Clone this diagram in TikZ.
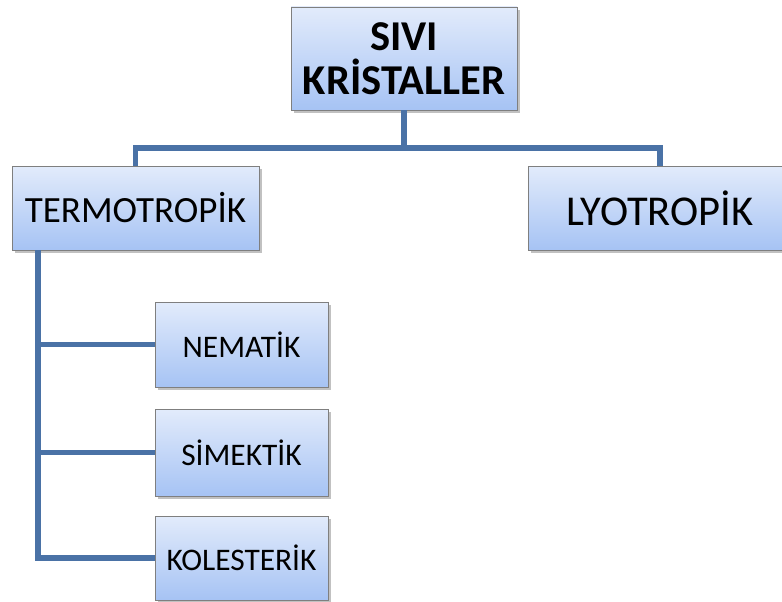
\documentclass[tikz,border=0pt]{standalone}
\usepackage{fontspec}
\setmainfont{Carlito}
\usetikzlibrary{shadows}
\definecolor{boxtop}{HTML}{E2EBFB}
\definecolor{boxbot}{HTML}{A6C3F4}
\definecolor{linec}{HTML}{4A72A6}
\definecolor{boxline}{HTML}{7F7F7F}
\tikzset{
  box/.style={draw=boxline, line width=0.8pt, top color=boxtop, bottom color=boxbot,
    inner sep=0pt, align=center, text=black,
    drop shadow={shadow xshift=2.5pt, shadow yshift=-3pt, opacity=0.35, fill=black!70}},
  conn/.style={draw=linec, line width=5.5pt}
}
\begin{document}
\begin{tikzpicture}[x=1pt,y=-1pt]
\useasboundingbox (0,0) rectangle (782,602);
\node[box, minimum width=226pt, minimum height=103pt, font=\fontsize{42.5}{44}\selectfont\bfseries] (top) at (404,58.5) {SIVI\\KRİSTALLER};
\node[box, minimum width=247pt, minimum height=84pt, font=\fontsize{37}{40}\selectfont] (term) at (135.5,208) {TERMOTROPİK};
\node[box, minimum width=264pt, minimum height=84pt, font=\fontsize{42.5}{44}\selectfont] (lyo) at (660,208) {LYOTROPİK};
\node[box, minimum width=173pt, minimum height=85pt, font=\fontsize{31.4}{34}\selectfont] (nem) at (241.5,344.5) {NEMATİK};
\node[box, minimum width=173pt, minimum height=87pt, font=\fontsize{31.4}{34}\selectfont] (sim) at (241.5,452.5) {SİMEKTİK};
\node[box, minimum width=173pt, minimum height=84pt, font=\fontsize{31.4}{34}\selectfont] (kol) at (241.5,558) {KOLESTERİK};
\coordinate (bus) at (0,148);
\coordinate (tv) at (38,0);
\draw[conn] (top.south) |- (bus -| term.north) -- (term.north);
\draw[conn] (top.south) |- (bus -| lyo.north) -- (lyo.north);
\draw[conn] (term.south -| tv) |- (nem.west);
\draw[conn] (term.south -| tv) |- (sim.west);
\draw[conn] (term.south -| tv) |- (kol.west);
\end{tikzpicture}
\end{document}
